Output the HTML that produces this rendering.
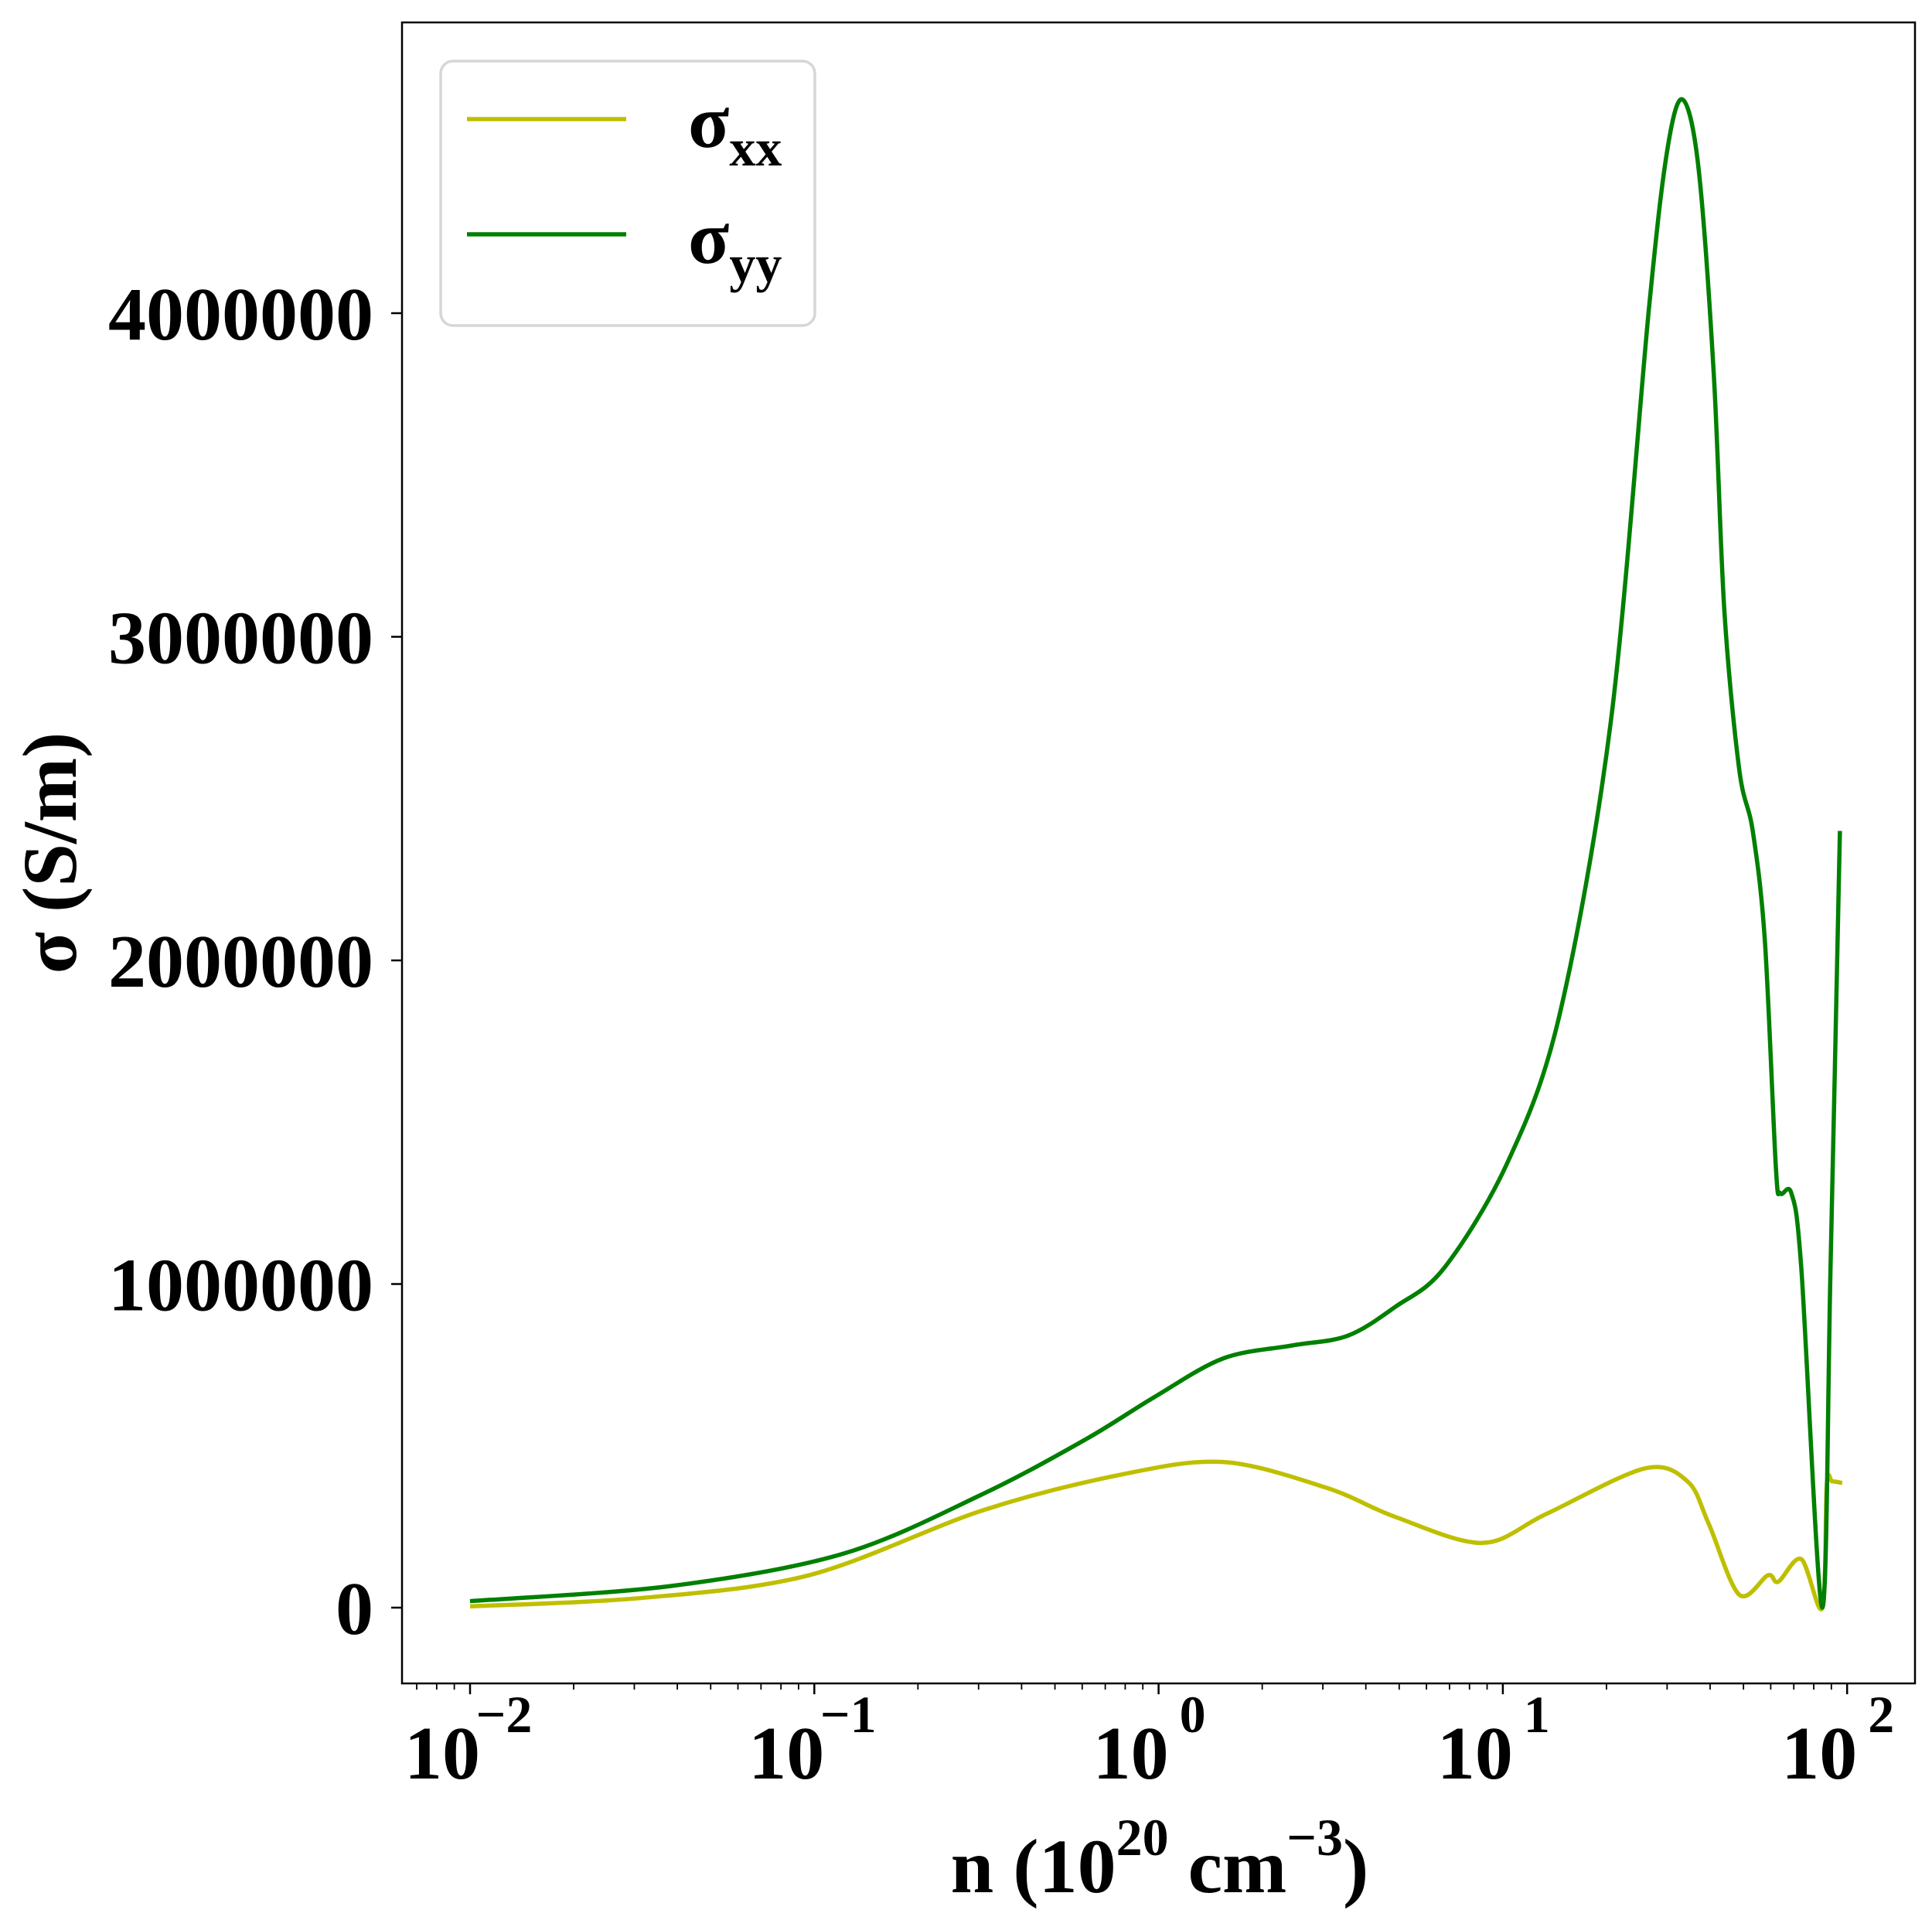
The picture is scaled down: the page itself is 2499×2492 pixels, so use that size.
<!DOCTYPE html>
<html><head><meta charset="utf-8"><style>html,body{margin:0;padding:0;background:#fff}svg{display:block}</style></head>
<body>
<svg id="chart" width="2499" height="2492" xmlns="http://www.w3.org/2000/svg" font-family="'Liberation Serif', serif" font-weight="bold">
<rect width="2499" height="2492" fill="#fff"/>
<g id="plot"></g>
<g id="axes"></g>
<rect x="520" y="29" width="1957" height="2148" fill="none" stroke="#000" stroke-width="2.5"/>
<g>
<rect x="570" y="79" width="484" height="342" rx="16" fill="#fff" fill-opacity="0.8" stroke="#d6d6d6" stroke-width="3.5"/>
<line x1="604" y1="154" x2="810" y2="154" stroke="#bfbf00" stroke-width="5.5"/>
<text x="890" y="190" font-size="98">σ<tspan font-size="68" dy="24">xx</tspan></text>
<line x1="604" y1="303" x2="810" y2="303" stroke="#008000" stroke-width="5.5"/>
<text x="890" y="340" font-size="98">σ<tspan font-size="68" dy="24">yy</tspan></text>
</g>
<text x="1500" y="2447" font-size="100" text-anchor="middle">n (10<tspan font-size="68" dy="-48">20</tspan><tspan dy="48"> cm</tspan><tspan font-size="68" dy="-48">−3</tspan><tspan dy="48">)</tspan></text>
<text transform="translate(98,1103) rotate(-90)" font-size="100" text-anchor="middle">σ (S/m)</text>
</svg>
<script>
const nValuesYY = [0.01,0.0384,0.1216,0.307,0.614,0.970,1.54,2.44,3.54,4.88,6.76,10.3,14.6,20.6,26.6,30.1,33.3,37.0,41.0,44.0,48.6,53.2,57.7,62.1,64.0,68.9,73.6,84.7,89.5,95.3];
const sigmaYY = [0.02,0.067,0.167,0.35,0.52,0.65,0.77,0.81,0.84,0.93,1.05,1.374,1.83,2.74,4.02,4.51,4.66,4.45,3.81,3.08,2.59,2.40,2.06,1.36,1.28,1.28,1.05,0.0,1.05,2.40];
const nValuesXX = [0.01,0.0316,0.0964,0.307,0.769,1.54,3.08,4.88,8.71,13.4,25.8,34.4,39.6,48.6,58.9,63.1,73.6,84.7,87.3,90.6,96.8];
const sigmaXX = [0.004,0.03,0.10,0.30,0.41,0.45,0.37,0.28,0.20,0.29,0.43,0.39,0.26,0.04,0.10,0.08,0.15,0.0,0.38,0.39,0.385];
const yTickValues = [0,1000000,2000000,3000000,4000000];
const yTickLabels = ["0","1000000","2000000","3000000","4000000"];
const xTickExps = [-2,-1,0,1,2];
const xTickLabels = ["−2","−1","0","1","2"];

const NS="http://www.w3.org/2000/svg";
const X0=608, DEC=445.3, Y0=2079, PER=418.5;
function xs(n){return X0+(Math.log10(n)+2)*DEC;}
function ys(v){return Y0-v*PER;}
function mk(tag,attrs,parent){const e=document.createElementNS(NS,tag);for(const k in attrs)e.setAttribute(k,attrs[k]);parent.appendChild(e);return e;}
const plot=document.getElementById('plot'), axes=document.getElementById('axes');
function pathFor(ns,vs){
  const p=ns.map((n,i)=>[xs(n),ys(vs[i])]);
  let d=`M${p[0][0]},${p[0][1]}`;
  for(let i=0;i<p.length-1;i++){
    const a=p[Math.max(i-1,0)],b=p[i],c=p[i+1],e=p[Math.min(i+2,p.length-1)];
    const t=0.16;
    d+=` C${b[0]+(c[0]-a[0])*t},${b[1]+(c[1]-a[1])*t} ${c[0]-(e[0]-b[0])*t},${c[1]-(e[1]-b[1])*t} ${c[0]},${c[1]}`;
  }
  return d;
}
const lx=mk('path',{d:pathFor(nValuesXX,sigmaXX),fill:'none',stroke:'#bfbf00','stroke-width':5.5,'stroke-linejoin':'round'},plot);


const ly=mk('path',{d:pathFor(nValuesYY,sigmaYY),fill:'none',stroke:'#008000','stroke-width':5.5,'stroke-linejoin':'round'},plot);



yTickValues.forEach((v,i)=>{
  const y=ys(v/1e6);
  const t=mk('line',{x1:506,x2:520,y1:y,y2:y,stroke:'#000','stroke-width':2.5},axes);
  
  
  const l=mk('text',{x:483,y:y+34,'font-size':98,'text-anchor':'end'},axes);
  l.textContent=yTickLabels[i];
  
  
});
xTickExps.forEach((e,i)=>{
  const x=xs(Math.pow(10,e));
  const t=mk('line',{x1:x,x2:x,y1:2177,y2:2191,stroke:'#000','stroke-width':2.5},axes);
  
  
  const l=mk('text',{x:x-36,y:2300,'font-size':98,'text-anchor':'middle'},axes);
  l.textContent='10';
  
  
  const s=mk('text',{x:x+44,y:2240,'font-size':68,'text-anchor':'middle'},axes);
  s.textContent=xTickLabels[i];
  
  
});
for(let d=-3;d<=2;d++){for(let k=2;k<=9;k++){
  const n=k*Math.pow(10,d), x=xs(n);
  if(x<521||x>2476) continue;
  const t=mk('line',{x1:x,x2:x,y1:2177,y2:2185,stroke:'#000','stroke-width':1.8},axes);
  
  
}}
</script>
</body></html>
